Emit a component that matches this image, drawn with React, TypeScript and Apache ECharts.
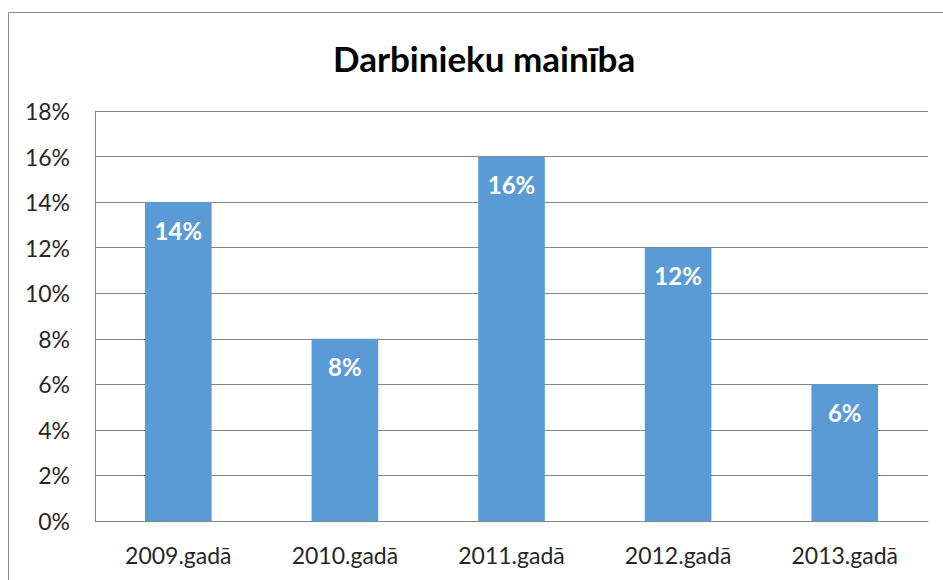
import React, { useEffect, useRef } from "react";
import * as echarts from "echarts";

const categories = ["2009.gadā", "2010.gadā", "2011.gadā", "2012.gadā", "2013.gadā"];
const values = [14, 8, 16, 12, 6];
const titleText = "Darbinieku mainība";

export default function App() {
  const ref = useRef<HTMLDivElement>(null);
  useEffect(() => {
    document.body.style.margin = "0";
    const chart = echarts.init(ref.current!, undefined, { renderer: "svg" });
    const font = "Lato, 'Open Sans', sans-serif";
    chart.setOption({
      animation: false,
      backgroundColor: "#ffffff",
      title: {
        text: titleText,
        left: 333,
        top: 40,
        padding: 0,
        textStyle: { fontFamily: font, fontSize: 35, fontWeight: "bold", color: "#000000" },
      },
      graphic: [
        {
          type: "rect",
          shape: { x: 8.5, y: 12.5, width: 1000, height: 700 },
          style: { fill: "none", stroke: "#8c8c8c", lineWidth: 1 },
          silent: true,
        },
      ],
      grid: { left: 95, right: 15, top: 111, bottom: 59, containLabel: false },
      xAxis: {
        type: "category",
        data: categories,
        axisLine: { show: true, lineStyle: { color: "#868686", width: 1 } },
        axisTick: { show: false },
        axisLabel: { fontFamily: font, fontSize: 23, color: "#262626", margin: 22 },
      },
      yAxis: {
        type: "value",
        min: 0,
        max: 18,
        interval: 2,
        axisLine: { show: true, lineStyle: { color: "#868686", width: 1 } },
        axisTick: { show: false },
        axisLabel: { fontFamily: font, fontSize: 23, color: "#262626", margin: 25, formatter: "{value}%" },
        splitLine: { show: true, lineStyle: { color: "#868686", width: 1 } },
      },
      series: [
        {
          type: "bar",
          data: values,
          barWidth: "40%",
          itemStyle: { color: "#5b9bd5" },
          label: {
            show: true,
            position: "insideTop",
            distance: 16,
            formatter: "{c}%",
            color: "#ffffff",
            fontFamily: font,
            fontSize: 24,
            fontWeight: "bold",
          },
        },
      ],
    });
    return () => chart.dispose();
  }, []);
  return <div ref={ref} style={{ position: "absolute", left: 0, top: 0, width: 943, height: 580 }} />;
}
